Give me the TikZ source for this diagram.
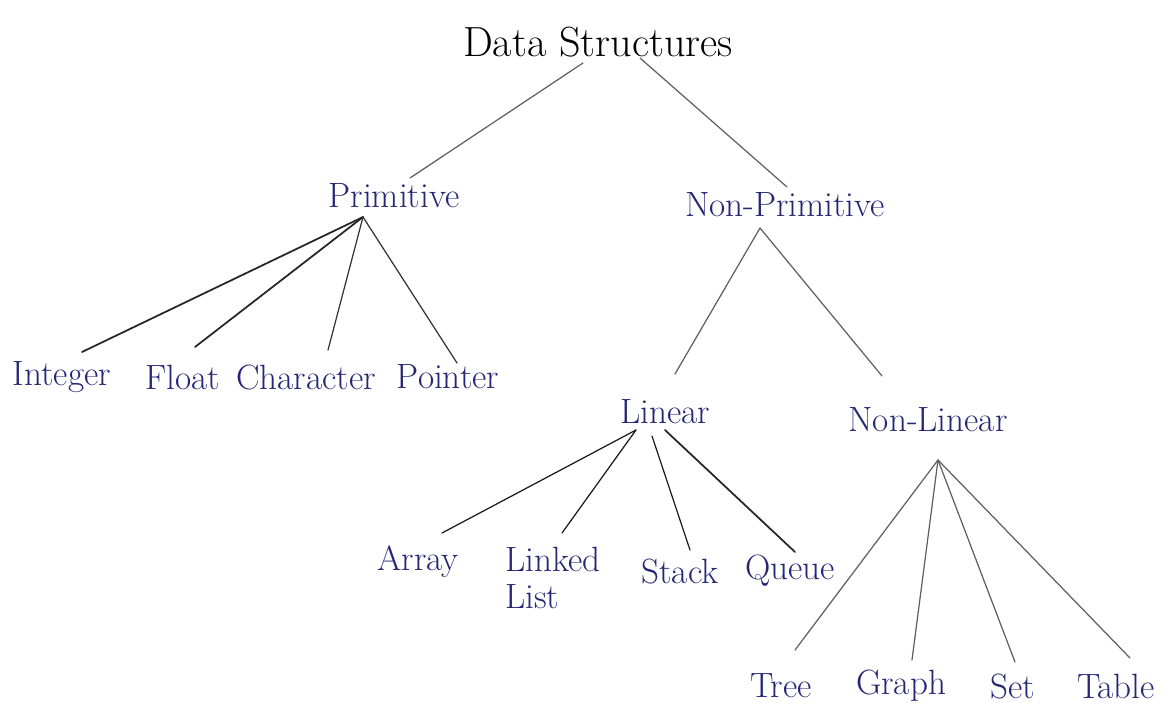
\documentclass[tikz,border=0pt]{standalone}
\usepackage{xcolor}
\usepackage{tikz, tkz-euclide}
\usetikzlibrary{calc}
\definecolor{inkblue}{RGB}{38,38,118}
\definecolor{pencil}{RGB}{95,95,95}

\begin{document}
\begin{tikzpicture}[x=0.02cm,y=-0.02cm,
    word/.style={font=\fontsize{20}{22}\selectfont, text=inkblue, inner sep=1pt},
    twig/.style={pencil, line width=0.7pt},
    stem/.style={black!85, line width=1pt}]
      \useasboundingbox (0,0) rectangle (1176,710);

      % words
      \node[word, text=black, font=\fontsize{24}{26}\selectfont] (ds) at (598,42) {Data Structures};
      \node[word] (prim) at (394,196) {Primitive};
      \node[word] (nprim) at (785,205) {Non-Primitive};
      \foreach \nm/\x/\txt in {int/62/Integer, flo/183/Float, chr/306/Character, ptr/448/Pointer}%
        { \node[word] (\nm) at (\x,377) {\txt}; }
      \node[word] (lin) at (665,412) {Linear};
      \node[word] (nlin) at (928,420) {Non-Linear};
      \node[word] (arr) at (418,562) {Array};
      \node[word, align=left, font=\fontsize{20}{21}\selectfont] (lst) at (553,578) {Linked\\List};
      \node[word] (stk) at (680,571) {Stack};
      \node[word] (que) at (790,571) {Queue};
      \foreach \nm/\x/\txt in {tre/781/Tree, gra/901/Graph, set/1013/Set, tab/1116/Table}%
        { \node[word] (\nm) at (\x,686) {\txt}; }

      % joints and ends
      \tkzDefPoint(583,63){D_l} \tkzDefPoint(640,58){D_r}%
      \tkzDefPoint(410,178){P_t} \tkzDefPoint(787,187){N_t}%
      \tkzDefPoint(363,217){P_0} \tkzDefPoint(760,228){N_0}%
      \tkzDefPoint(675,374){L_t} \tkzDefPoint(882,376){K_t}%
      \tkzDefPoint(636,430){L_0} \tkzDefPoint(652,436){L_1} \tkzDefPoint(665,430){L_2}%
      \tkzDefPoint(938,460){K_0}%
      \foreach \pt/\x/\y in {I/82/352, F/195/347, C/328/350, R/457/363,
          A/442/533, B/562/533, S/690/550, Q/795/552,
          T/795/650, G/912/660, E/1015/662, W/1130/658}%
        { \tkzDefPoint(\x,\y){\pt_e} }%

      \tkzDrawSegments[twig](D_l,P_t D_r,N_t N_0,L_t N_0,K_t)%
      \tkzDrawSegments[stem](P_0,I_e P_0,F_e)%
      \tkzDrawSegments[twig, black!80](P_0,C_e P_0,R_e)%
      \tkzDrawSegments[twig, black!90](L_0,A_e L_0,B_e L_1,S_e)%
      \tkzDrawSegments[stem](L_2,Q_e)%
      \tkzDrawSegments[twig](K_0,T_e K_0,G_e K_0,E_e K_0,W_e)%
    \end{tikzpicture}
\end{document}
